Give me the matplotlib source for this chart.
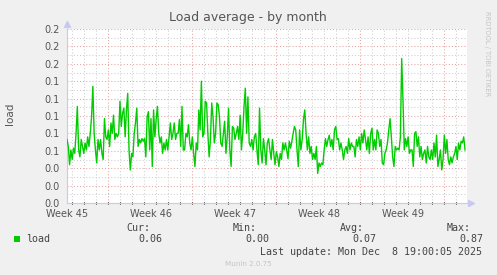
import numpy as np
import matplotlib
matplotlib.use("Agg")
import matplotlib.pyplot as plt
from matplotlib.patches import Rectangle

# figure size in pixels
W, H = 497, 275

# -------------------------
# DATA
# -------------------------
title = "Load average - by month"
week_labels = ["Week 45", "Week 46", "Week 47", "Week 48", "Week 49"]
week_days = [0, 7, 14, 21, 28]          # days after the graph start
graph_days = 400 / 12                    # 400 px at 2 h per px
data_days = 398 / 12

load = [
    # week 45
    .073, .065, .044, .061, .050, .063, .057, .080, .111, .061, .053, .073, .065, .057,
    .069, .061, .076, .065, .080, .099, .134, .080, .061, .046, .073, .061, .073, .057,
    .050, .097, .076, .073, .084, .065, .092, .080, .101, .073, .080, .076,
    .080, .117, .088, .103, .109, .076, .107, .126, .061, .038, .057, .053, .080, .092,
    .109, .065, .073, .069, .074, .071, .074, .053, .099, .105, .061, .097, .042, .107,
    .076, .096, .111, .080, .069, .076, .057, .069, .061, .073, .061, .076, .092, .073,
    .080, .092, .073, .080,
    # week 46 / 47
    .080, .096, .065, .111, .061, .061, .080, .076, .090, .069, .061, .076, .057, .042,
    .069, .061, .107, .084, .140, .076, .080, .117, .115, .080, .053, .073, .115, .099,
    .069, .080, .115, .113, .099, .069, .065, .080, .094, .057, .076, .109, .061, .042,
    .088, .086, .073, .080,
    .088, .073, .101, .061, .080, .111, .132, .080, .122, .069, .065, .073, .061, .076,
    .080, .061, .044, .109, .061, .046, .074, .061, .044, .069, .074, .061, .050, .073,
    .057, .044, .059, .053, .042, .057, .050, .069, .061, .069, .061, .051, .071, .063,
    .071, .080, .088,
    # week 48
    .084, .061, .042, .084, .061, .073, .096, .107, .080, .061, .076, .057, .065, .050,
    .057, .050, .065, .034, .046, .042, .046, .044, .061, .074, .065, .073, .078, .065,
    .073, .061, .084, .088, .073, .074, .061, .069, .061, .050, .061, .065, .057, .074,
    .061, .069, .065,
    # week 49
    .065, .053, .073, .065, .076, .061, .080, .069, .084, .073, .061, .076, .057, .080,
    .086, .061, .073, .061, .084, .080, .065, .073, .046, .044, .057, .061, .069, .084,
    .097, .076, .053, .042, .065, .061, .063, .061, .076, .166, .119, .061, .074, .065,
    .076, .057, .061,
    .061, .042, .080, .082, .065, .076, .053, .065, .050, .057, .061, .046, .065, .053,
    .050, .061, .050, .069, .053, .078, .042, .050, .061, .038, .050, .078, .057, .073,
    .050, .044, .053, .046, .053, .057, .065, .050, .069, .061, .071, .069, .076, .061,
]

series_name = "load"
stat_names = ["Cur:", "Min:", "Avg:", "Max:"]
stat_values = ["0.06", "0.00", "0.07", "0.87"]
last_update = "Last update: Mon Dec  8 19:00:05 2025"

# -------------------------
# STYLE
# -------------------------
BG = "#F0F0F0"
TXT = "#555555"
MAJOR = "#E9A3A3"
MINOR = "#CFCFCF"
AXIS = "#C8C8F0"
GREEN = "#00CC00"


def fx(px):
    return px / W


def fy(py):
    return 1 - py / H


fig = plt.figure(figsize=(W / 100, H / 100), dpi=100, facecolor=BG)
ax = fig.add_axes([fx(67), fy(203), 400 / W, 174 / H])
ax.set_facecolor("white")
ax.set_xlim(0, graph_days)
ax.set_ylim(0, 0.2)

# grid
dots = (0, (1, 2))
for y in np.arange(0.01, 0.2, 0.02):
    ax.axhline(y, color=MINOR, lw=0.75, ls=dots, zorder=1)
for y in np.arange(0.02, 0.201, 0.02):
    ax.axhline(y, color=MAJOR, lw=0.75, ls=dots, zorder=1)
day_lines = np.arange(5 / 12, graph_days, 1.0)
week_lines = np.arange(41 / 12, graph_days, 7.0)
for x in day_lines:
    if np.min(np.abs(week_lines - x)) > 0.01:
        ax.axvline(x, color=MINOR, lw=0.75, ls=dots, zorder=1)
for x in week_lines:
    ax.axvline(x, color=MAJOR, lw=0.75, ls=dots, zorder=1)

# data
t = np.linspace(0, data_days, len(load))
ax.plot(t, load, color=GREEN, lw=1.0, zorder=3)

# axes
for s in ["top", "right"]:
    ax.spines[s].set_visible(False)
for s in ["left", "bottom"]:
    ax.spines[s].set_color(AXIS)
    ax.spines[s].set_linewidth(0.8)
ax.plot([1.009], [0], marker=">", ms=4, color=AXIS, transform=ax.transAxes, clip_on=False)
ax.plot([0], [1.03], marker="^", ms=4, color=AXIS, transform=ax.transAxes, clip_on=False)

ax.set_yticks(np.arange(0, 0.201, 0.02))
ax.set_yticklabels([f"{v:.1f}" for v in np.arange(0, 0.201, 0.02)])
ax.set_xticks(week_days)
ax.set_xticklabels(week_labels)
ax.tick_params(axis="both", length=0, labelsize=7, colors=TXT)
ax.tick_params(axis="y", pad=5)
ax.tick_params(axis="x", pad=4.5)

ax.set_xticks(day_lines, minor=True)
ax.tick_params(axis="x", which="minor", length=2, width=0.8, direction="inout")
for tk, x in zip(ax.xaxis.get_minor_ticks(), day_lines):
    red = np.min(np.abs(week_lines - x)) < 0.01
    tk.tick1line.set_color(MAJOR if red else MINOR)

# texts
fig.text(fx(248), fy(18), title, ha="center", va="center", fontsize=9, color=TXT)
fig.text(fx(10), fy(114), "load", rotation=90, ha="center", va="center",
         fontsize=7.5, color=TXT)
fig.text(fx(487), fy(54), "RRDTOOL / TOBI OETIKER", rotation=270, ha="center",
         va="center", fontsize=4.8, color="#C4C4C4")

# legend
fig.patches.append(Rectangle((fx(14), fy(242)), 6 / W, 6 / H, transform=fig.transFigure,
                             facecolor=GREEN, edgecolor="none"))
mono = dict(family="DejaVu Sans Mono", fontsize=7.2, color="#444444", va="center")
fig.text(fx(26), fy(239), series_name, ha="left", **mono)
for i, (n, v) in enumerate(zip(stat_names, stat_values)):
    fig.text(fx(150 + 107 * i), fy(228), n, ha="right", **mono)
    fig.text(fx(162 + 107 * i), fy(239), v, ha="right", **mono)
fig.text(fx(482), fy(252), last_update, ha="right", **mono)
fig.text(fx(248), fy(264), "Munin 2.0.75", ha="center", va="center",
         fontsize=5.1, color="#C4C4C4")

fig.savefig("out.png", dpi=100, facecolor=BG)
